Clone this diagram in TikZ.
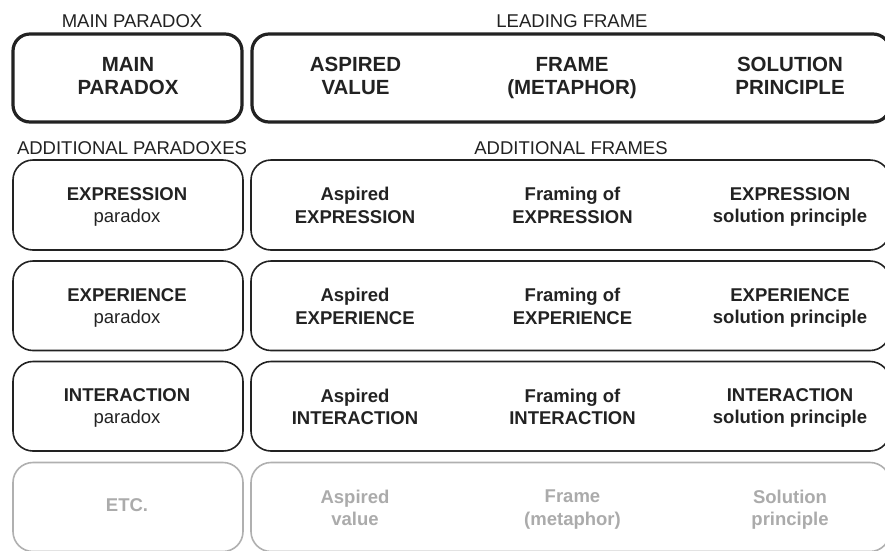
\documentclass[tikz,border=0pt]{standalone}
\usepackage{fontspec}
\setmainfont{Liberation Sans}
\definecolor{ink}{HTML}{222222}
\definecolor{faintline}{HTML}{B0B0B0}
\definecolor{fainttext}{HTML}{ABABAB}
\tikzset{
  thickbox/.style={draw=ink, line width=3.2pt, rounded corners=17pt},
  thinbox/.style={draw=ink, line width=1.6pt, rounded corners=20pt},
  greybox/.style={draw=faintline, line width=1.6pt, rounded corners=20pt},
  headtxt/.style={font=\fontsize{20.5}{23.5}\selectfont\bfseries, align=center, anchor=north, inner sep=0pt, text=ink},
  rowtxt/.style={font=\fontsize{18.5}{22.3}\selectfont, align=center, anchor=north, inner sep=0pt, text=ink},
  greytxt/.style={rowtxt, text=fainttext},
  labeltxt/.style={font=\fontsize{18.5}{22}\selectfont, anchor=north, inner sep=0pt, text=ink}
}
\begin{document}
\begin{tikzpicture}[x=1pt,y=-1pt]
\useasboundingbox (0,0) rectangle (885,550);
\fill[white] (0,0) rectangle (885,550);
\clip (0,0) rectangle (885,550);
% section labels
\node[labeltxt] (lmain) at (132,14) {MAIN PARADOX};
\node[labeltxt] (llead) at (572,14) {LEADING FRAME};
\node[labeltxt] (laddp) at (132,141.5) {ADDITIONAL PARADOXES};
\node[labeltxt] (laddf) at (571,141.5) {ADDITIONAL FRAMES};
% top row boxes
\draw[thickbox] (13,34) rectangle (242,122);
\draw[thickbox] (252,34) rectangle (890,122);
\node[headtxt] (mp) at (128,56.7) {MAIN\\PARADOX};
\node[headtxt] (av) at (355.5,56.7) {ASPIRED\\VALUE};
\node[headtxt] (fm) at (572,56.7) {FRAME\\(METAPHOR)};
\node[headtxt] (sp) at (790,56.7) {SOLUTION\\PRINCIPLE};
% row 1
\draw[thinbox] (13,160) rectangle (243,250);
\draw[thinbox] (251,160) rectangle (890,250);
\node[rowtxt] (p1) at (127,187.3) {\textbf{EXPRESSION}\\paradox};
\node[rowtxt] (a1) at (355,187.3) {\textbf{Aspired}\\\textbf{EXPRESSION}};
\node[rowtxt] (f1) at (572.5,187.3) {\textbf{Framing of}\\\textbf{EXPRESSION}};
\node[rowtxt] (s1) at (790,187.3) {\textbf{EXPRESSION}\\\textbf{solution principle}};
% row 2
\draw[thinbox] (13,261) rectangle (243,350.5);
\draw[thinbox] (251,261) rectangle (890,350.5);
\node[rowtxt] (p2) at (127,288.3) {\textbf{EXPERIENCE}\\paradox};
\node[rowtxt] (a2) at (355,288.3) {\textbf{Aspired}\\\textbf{EXPERIENCE}};
\node[rowtxt] (f2) at (572.5,288.3) {\textbf{Framing of}\\\textbf{EXPERIENCE}};
\node[rowtxt] (s2) at (790,288.3) {\textbf{EXPERIENCE}\\\textbf{solution principle}};
% row 3
\draw[thinbox] (13,361.5) rectangle (243,451);
\draw[thinbox] (251,361.5) rectangle (890,451);
\node[rowtxt] (p3) at (127,388.5) {\textbf{INTERACTION}\\paradox};
\node[rowtxt] (a3) at (355,388.5) {\textbf{Aspired}\\\textbf{INTERACTION}};
\node[rowtxt] (f3) at (572.5,388.5) {\textbf{Framing of}\\\textbf{INTERACTION}};
\node[rowtxt] (s3) at (790,388.5) {\textbf{INTERACTION}\\\textbf{solution principle}};
% row 4 (grey)
\draw[greybox] (13,462.5) rectangle (243,551.5);
\draw[greybox] (251,462.5) rectangle (890,551.5);
\node[greytxt] (p4) at (127,498.3) {\textbf{ETC.}};
\node[greytxt] (a4) at (355,489.8) {\textbf{Aspired}\\\textbf{value}};
\node[greytxt] (f4) at (572.5,489.8) {\textbf{Frame}\\\textbf{(metaphor)}};
\node[greytxt] (s4) at (790,489.8) {\textbf{Solution}\\\textbf{principle}};
\end{tikzpicture}
\end{document}
